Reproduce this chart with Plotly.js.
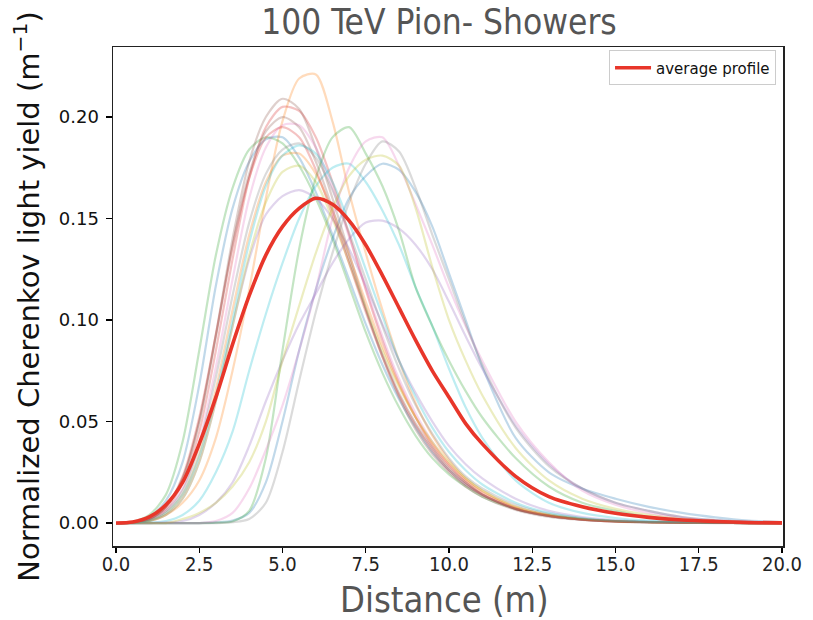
<!DOCTYPE html>
<html>
<head>
<meta charset="utf-8">
<script src="https://cdn.plot.ly/plotly-3.0.1.min.js"></script>
<style>html,body{margin:0;padding:0;background:#fff;}#chart{width:813px;height:620px;}</style>
</head>
<body>
<div id="chart"></div>
<script>
// Distance grid (m)
const distance = [0,0.5,1,1.5,2,2.5,3,3.5,4,4.5,5,5.5,6,6.5,7,7.5,8,8.5,9,9.5,10,10.5,11,12,13,14,15,16,17,18,19,20];

// Individual shower profiles (normalized Cherenkov light yield, m^-1)
const shower01 = [0,0.0004,0.003,0.011,0.030,0.068,0.117,0.155,0.178,0.189,0.190,0.180,0.163,0.142,0.120,0.098,0.078,0.061,0.047,0.035,0.026,0.019,0.014,0.007,0.0035,0.0017,0.0009,0.0004,0.0002,0.0001,0,0];
const shower02 = [0,0.0002,0.001,0.004,0.010,0.021,0.042,0.075,0.115,0.160,0.198,0.219,0.221,0.198,0.163,0.133,0.105,0.080,0.059,0.043,0.031,0.022,0.016,0.008,0.004,0.002,0.001,0.0005,0.0002,0.0001,0,0];
const shower03 = [0,0.0006,0.004,0.014,0.040,0.085,0.132,0.165,0.184,0.190,0.187,0.176,0.160,0.140,0.117,0.094,0.074,0.057,0.043,0.032,0.024,0.018,0.013,0.007,0.0035,0.0018,0.0009,0.0005,0.0003,0.0001,0,0];
const shower04 = [0,0.0003,0.002,0.007,0.020,0.045,0.085,0.130,0.170,0.195,0.205,0.203,0.190,0.168,0.142,0.115,0.090,0.069,0.052,0.038,0.028,0.020,0.014,0.007,0.0035,0.0017,0.0008,0.0004,0.0002,0.0001,0,0];
const shower05 = [0,0.0002,0.001,0.004,0.012,0.030,0.060,0.097,0.130,0.152,0.161,0.164,0.160,0.150,0.135,0.117,0.098,0.080,0.064,0.050,0.038,0.029,0.022,0.012,0.006,0.003,0.0015,0.0007,0.0003,0.0001,0,0];
const shower06 = [0,0.0003,0.002,0.008,0.022,0.050,0.093,0.140,0.178,0.200,0.209,0.204,0.185,0.160,0.133,0.106,0.082,0.062,0.046,0.034,0.025,0.018,0.013,0.0065,0.003,0.0015,0.0007,0.0003,0.0001,0,0,0];
const shower07 = [0,0.0002,0.0015,0.006,0.017,0.040,0.077,0.120,0.160,0.185,0.196,0.196,0.185,0.165,0.141,0.116,0.092,0.071,0.054,0.040,0.029,0.021,0.015,0.0075,0.0037,0.0018,0.0009,0.0004,0.0002,0.0001,0,0];
const shower08 = [0,0.0002,0.0015,0.006,0.016,0.038,0.072,0.112,0.148,0.172,0.184,0.187,0.180,0.164,0.143,0.120,0.097,0.076,0.058,0.044,0.032,0.023,0.017,0.009,0.0045,0.0022,0.001,0.0005,0.0002,0.0001,0,0];
const shower09 = [0,0.0001,0.001,0.004,0.012,0.030,0.060,0.097,0.132,0.158,0.173,0.176,0.168,0.150,0.128,0.106,0.085,0.067,0.052,0.040,0.030,0.022,0.016,0.008,0.004,0.002,0.001,0.0005,0.0002,0.0001,0,0];
const shower10 = [0,0,0.0003,0.001,0.004,0.011,0.025,0.045,0.075,0.103,0.128,0.150,0.166,0.175,0.177,0.168,0.154,0.137,0.116,0.097,0.076,0.057,0.042,0.021,0.010,0.005,0.0025,0.0012,0.0006,0.0003,0.0001,0];
const shower11 = [0,0,0,0,0,0,0.0003,0.0012,0.005,0.020,0.050,0.085,0.115,0.140,0.160,0.171,0.177,0.174,0.163,0.146,0.123,0.100,0.077,0.042,0.025,0.017,0.012,0.008,0.005,0.0028,0.0012,0.0005];
const shower12 = [0,0.0002,0.0012,0.005,0.014,0.034,0.066,0.105,0.142,0.168,0.181,0.182,0.172,0.154,0.132,0.109,0.087,0.068,0.052,0.039,0.029,0.021,0.015,0.0075,0.0037,0.0018,0.0009,0.0004,0.0002,0.0001,0,0];
const shower13 = [0,0,0,0,0,0,0.0002,0.0008,0.006,0.032,0.085,0.135,0.170,0.190,0.195,0.182,0.166,0.144,0.116,0.097,0.080,0.065,0.052,0.032,0.018,0.010,0.006,0.003,0.0015,0.0008,0.0003,0.0001];
const shower14 = [0,0.0003,0.002,0.008,0.023,0.052,0.093,0.136,0.170,0.190,0.195,0.190,0.174,0.152,0.128,0.104,0.082,0.063,0.048,0.036,0.026,0.019,0.014,0.007,0.0035,0.0017,0.0008,0.0004,0.0002,0.0001,0,0];
const shower15 = [0,0,0,0.0003,0.001,0.004,0.010,0.020,0.038,0.060,0.080,0.098,0.113,0.128,0.140,0.148,0.149,0.145,0.137,0.125,0.109,0.092,0.076,0.048,0.029,0.017,0.010,0.006,0.003,0.0015,0.0006,0.0002];
const shower16 = [0,0.0003,0.002,0.008,0.022,0.050,0.092,0.137,0.172,0.193,0.200,0.195,0.178,0.155,0.130,0.105,0.083,0.064,0.049,0.037,0.027,0.020,0.014,0.007,0.0035,0.0017,0.0008,0.0004,0.0002,0.0001,0,0];
const shower17 = [0,0,0,0,0,0,0.001,0.005,0.017,0.036,0.058,0.085,0.115,0.150,0.175,0.188,0.190,0.176,0.157,0.137,0.116,0.097,0.080,0.050,0.030,0.016,0.009,0.005,0.0025,0.0012,0.0005,0.0002];
const shower18 = [0,0,0,0,0,0,0,0.0004,0.002,0.010,0.035,0.070,0.104,0.133,0.158,0.177,0.188,0.183,0.165,0.142,0.120,0.098,0.078,0.047,0.028,0.017,0.010,0.006,0.003,0.0015,0.0006,0.0002];
const shower19 = [0,0,0,0,0.002,0.005,0.010,0.018,0.030,0.050,0.080,0.107,0.133,0.155,0.171,0.179,0.181,0.176,0.155,0.126,0.100,0.080,0.063,0.037,0.021,0.012,0.007,0.004,0.002,0.001,0.0004,0.0001];
const shower20 = [0,0.0002,0.0012,0.005,0.014,0.033,0.063,0.100,0.138,0.166,0.181,0.186,0.182,0.168,0.148,0.125,0.102,0.080,0.062,0.047,0.035,0.026,0.019,0.010,0.005,0.0025,0.0012,0.0006,0.0003,0.0001,0,0];

// Average profile
const averageProfile = [0,0.0005,0.003,0.009,0.020,0.039,0.062,0.088,0.112,0.132,0.146,0.155,0.160,0.157,0.149,0.137,0.122,0.106,0.090,0.075,0.062,0.049,0.039,0.023,0.013,0.008,0.0048,0.0028,0.0015,0.0008,0.0003,0.0001];

const xTicks = [0,2.5,5,7.5,10,12.5,15,17.5,20];
const yTicks = [0,0.05,0.10,0.15,0.20];

const showers = [shower01,shower02,shower03,shower04,shower05,shower06,shower07,shower08,shower09,shower10,
                 shower11,shower12,shower13,shower14,shower15,shower16,shower17,shower18,shower19,shower20];
const tab10 = ['31,119,180','255,127,14','44,160,44','214,39,40','148,103,189','140,86,75','227,119,194','127,127,127','188,189,34','23,190,207'];

const traces = showers.map((s, i) => ({
  x: distance, y: s, type: 'scatter', mode: 'lines',
  line: {color: 'rgba(' + tab10[i % 10] + ',0.28)', width: 2.2, shape: 'spline', smoothing: 0.8},
  showlegend: false, hoverinfo: 'skip'
}));
traces.push({
  x: distance, y: averageProfile, type: 'scatter', mode: 'lines', name: 'average profile',
  line: {color: '#e8362a', width: 3.6, shape: 'spline', smoothing: 0.8}
});

const narrow = 'DejaVu Sans Condensed, Liberation Sans Narrow, sans-serif';
const layout = {
  width: 813, height: 620,
  margin: {l: 113, r: 30, t: 47, b: 74, pad: 0},
  paper_bgcolor: '#fff', plot_bgcolor: '#fff',
  title: {text: '100 TeV Pion- Showers', font: {family: narrow, size: 35, color: '#555'},
          x: 439/813, xanchor: 'center', y: 1 - 22/620, yanchor: 'middle'},
  xaxis: {
    range: [-0.09, 20.03], tickvals: xTicks, tickformat: '.1f',
    ticks: 'outside', ticklen: 5, tickwidth: 1.2, tickcolor: '#000',
    showline: true, linecolor: '#222', linewidth: 1.5, mirror: true,
    showgrid: false, zeroline: false, automargin: false,
    tickfont: {family: narrow, size: 20, color: '#222'}, ticklabelstandoff: -6
  },
  yaxis: {
    range: [-0.0113, 0.2345], tickvals: yTicks, tickformat: '.2f',
    ticks: 'outside', ticklen: 6, tickwidth: 1.2, tickcolor: '#000',
    showline: true, linecolor: '#222', linewidth: 1.5, mirror: true,
    showgrid: false, zeroline: false, automargin: false,
    tickfont: {family: 'DejaVu Sans, sans-serif', size: 18, color: '#111'}, ticklabelstandoff: 3,
    title: {text: 'Normalized Cherenkov light yield (m<sup>−1</sup>)', font: {family: 'DejaVu Sans, sans-serif', size: 29, color: '#111'}, standoff: 10}
  },
  annotations: [{
    text: 'Distance (m)', xref: 'paper', yref: 'paper', x: (444 - 113) / 670, y: -(599 - 546) / 499,
    xanchor: 'center', yanchor: 'middle', showarrow: false, height: 38, valign: 'middle',
    font: {family: narrow, size: 36, color: '#555'}
  }],
  legend: {x: 0.9896, xanchor: 'right', y: 0.993, yanchor: 'top',
           bordercolor: '#ccc', borderwidth: 1, bgcolor: '#fff', itemwidth: 36,
           font: {family: 'DejaVu Sans, sans-serif', size: 15, color: '#111'}},
  showlegend: true
};

Plotly.newPlot('chart', traces, layout, {displayModeBar: false, staticPlot: true});
</script>
</body>
</html>
